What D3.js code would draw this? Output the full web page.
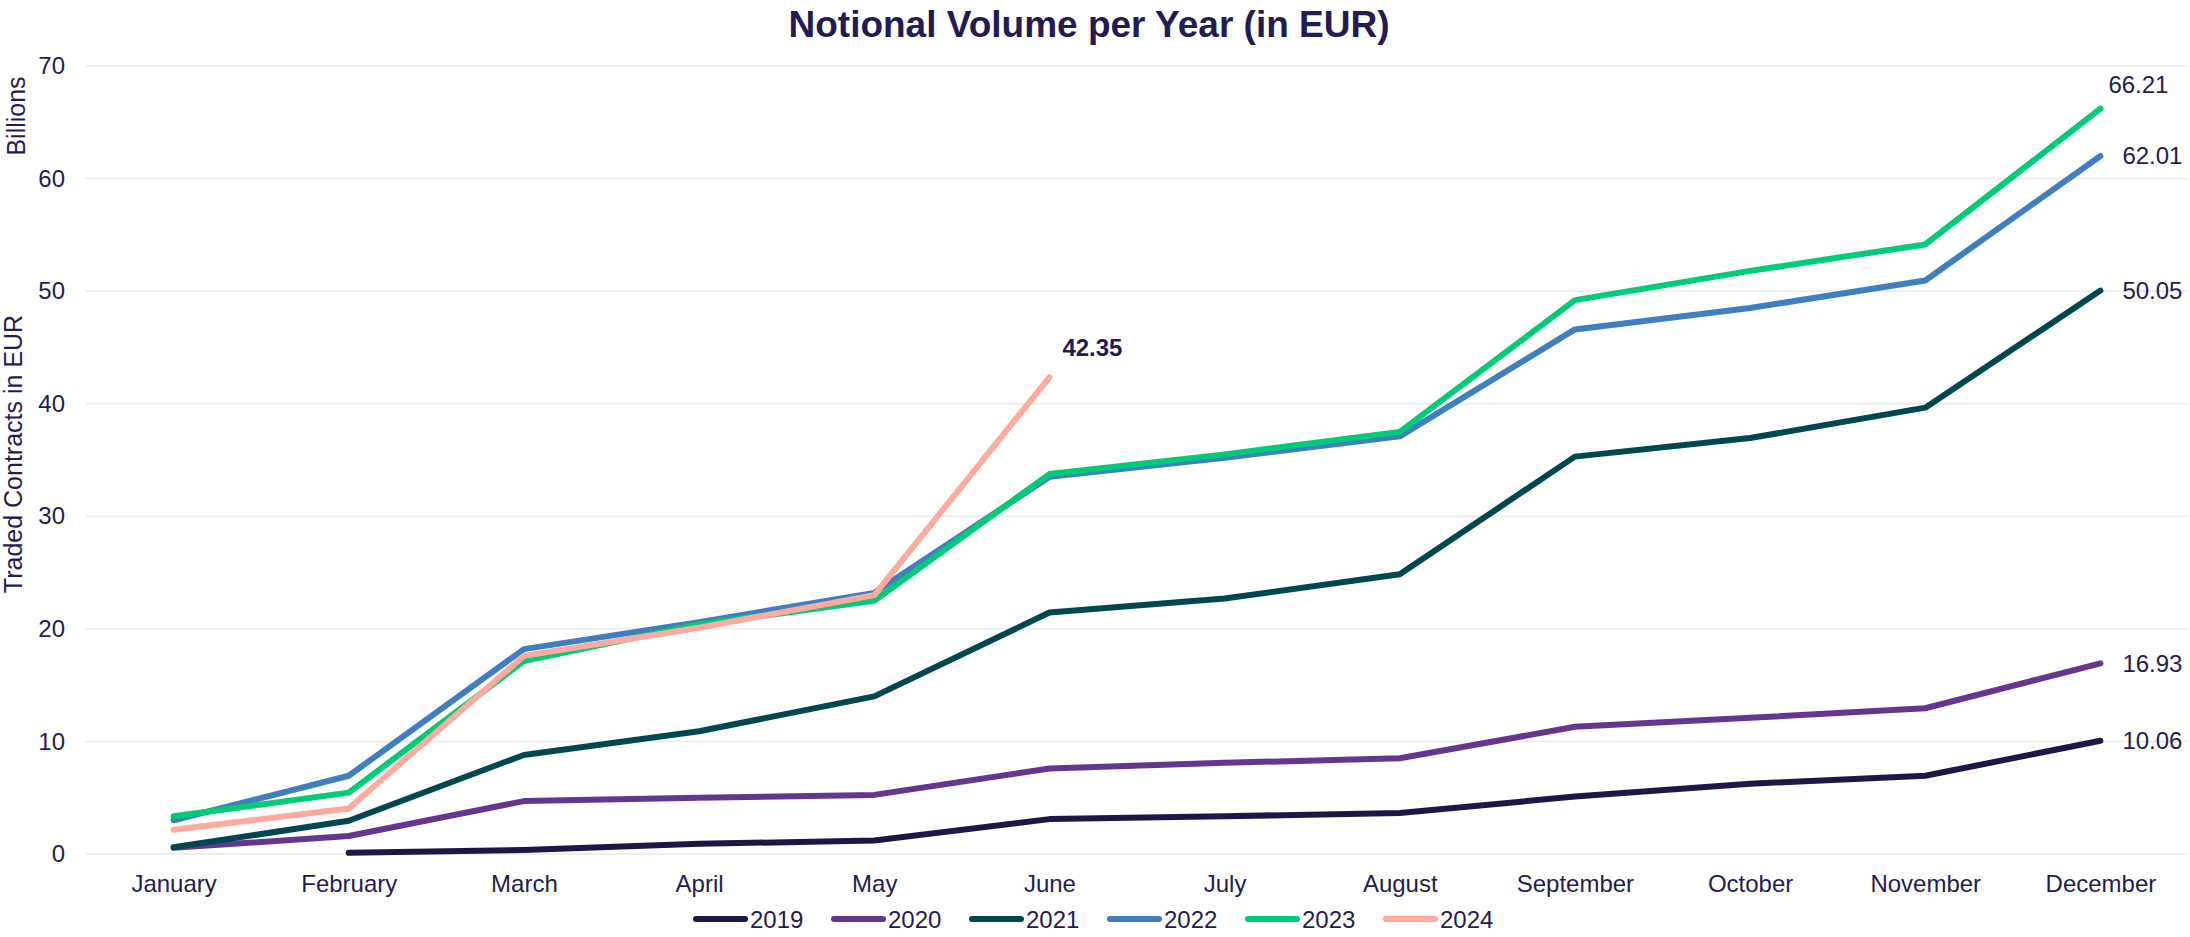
<!DOCTYPE html>
<html>
<head>
<meta charset="utf-8">
<script src="https://cdn.jsdelivr.net/npm/d3@7"></script>
<style>
  html, body { margin: 0; padding: 0; background: #ffffff; }
  svg text { font-family: "Liberation Sans", Arial, sans-serif; }
</style>
</head>
<body>
<svg id="chart" width="2190" height="937"></svg>
<script>
// ---- data ----
const months = ["January","February","March","April","May","June","July","August","September","October","November","December"];
const years = ["2019","2020","2021","2022","2023","2024"];
const v2019 = [null, 0.1, 0.35, 0.9, 1.2, 3.1, 3.35, 3.65, 5.1, 6.25, 6.95, 10.06];
const v2020 = [0.55, 1.6, 4.7, 5.0, 5.25, 7.6, 8.1, 8.5, 11.3, 12.1, 12.95, 16.93];
const v2021 = [0.6, 2.95, 8.8, 10.9, 14.0, 21.45, 22.7, 24.85, 35.3, 36.95, 39.65, 50.05];
const v2022 = [3.0, 6.95, 18.2, 20.6, 23.2, 33.5, 35.2, 37.1, 46.6, 48.5, 50.95, 62.01];
const v2023 = [3.35, 5.45, 17.15, 20.4, 22.5, 33.75, 35.5, 37.5, 49.2, 51.8, 54.15, 66.21];
const v2024 = [2.15, 4.05, 17.6, 20.1, 23.0, 42.35];
const yTicks = [0, 10, 20, 30, 40, 50, 60, 70];
const colors = ["#1f1648", "#66358f", "#00474f", "#3f7fc0", "#00cc77", "#ffaa9e"];
const seriesValues = [v2019, v2020, v2021, v2022, v2023, v2024];
const title = "Notional Volume per Year (in EUR)";
const yTitleOuter = "Billions";
const yTitleInner = "Traded Contracts in EUR";

// ---- setup ----
const textColor = "#231c52";
const svg = d3.select("#chart");
const W = 2190, H = 937;
const plotLeft = 86, plotRight = 2188, plotTop = 66, plotBottom = 854;

const x = d3.scalePoint().domain(months).range([plotLeft, plotRight]).padding(0.5);
const y = d3.scaleLinear().domain([0, 70]).range([plotBottom, plotTop]);

// gridlines
svg.append("g").selectAll("line").data(yTicks).join("line")
  .attr("x1", plotLeft).attr("x2", plotRight)
  .attr("y1", d => y(d)).attr("y2", d => y(d))
  .attr("stroke", "#eeeeee").attr("stroke-width", 2);

// y axis
const yAxis = d3.axisLeft(y).tickValues(yTicks).tickSize(0).tickPadding(0).tickFormat(d3.format("d"));
const gy = svg.append("g").attr("transform", `translate(65,0)`).call(yAxis);
gy.select(".domain").remove();
gy.selectAll("text").attr("font-size", 24).attr("fill", textColor)
  .attr("font-family", "Liberation Sans, Arial, sans-serif");

// x axis
const xAxis = d3.axisBottom(x).tickSize(0).tickPadding(0);
const gx = svg.append("g").attr("transform", `translate(0,${plotBottom})`).call(xAxis);
gx.select(".domain").remove();
gx.selectAll("text").attr("font-size", 24).attr("fill", textColor)
  .attr("dy", null).attr("y", 38)
  .attr("font-family", "Liberation Sans, Arial, sans-serif");

// title
svg.append("text").attr("x", 1089).attr("y", 37).attr("text-anchor", "middle")
  .attr("font-size", 37).attr("font-weight", "bold").attr("fill", textColor).text(title);

// y titles
svg.append("text").attr("transform", "translate(25,116) rotate(-90)").attr("text-anchor", "middle")
  .attr("font-size", 25).attr("fill", textColor).text(yTitleOuter);
svg.append("text").attr("transform", "translate(22,454) rotate(-90)").attr("text-anchor", "middle")
  .attr("font-size", 25).attr("fill", textColor).text(yTitleInner);

// lines
const line = d3.line()
  .defined(d => d.v !== null && d.v !== undefined)
  .x(d => x(d.m)).y(d => y(d.v));

years.forEach((yr, i) => {
  const pts = seriesValues[i].map((v, j) => ({ m: months[j], v }));
  svg.append("path").datum(pts)
    .attr("d", line)
    .attr("fill", "none")
    .attr("stroke", colors[i])
    .attr("stroke-width", 6)
    .attr("stroke-linecap", "round")
    .attr("stroke-linejoin", "round");
});

// end labels
const labelStyle = {
  "2019": { dx: 22, dy: 0, bold: false },
  "2020": { dx: 22, dy: 0, bold: false },
  "2021": { dx: 22, dy: 0, bold: false },
  "2022": { dx: 22, dy: 0, bold: false },
  "2023": { dx: 8, dy: -24, bold: false },
  "2024": { dx: 13, dy: -30, bold: true }
};
years.forEach((yr, i) => {
  const vals = seriesValues[i];
  const j = vals.length - 1;
  const st = labelStyle[yr];
  svg.append("text")
    .attr("x", x(months[j]) + st.dx)
    .attr("y", y(vals[j]) + st.dy)
    .attr("dominant-baseline", "central")
    .attr("font-size", 24)
    .attr("font-weight", st.bold ? "bold" : "normal")
    .attr("fill", textColor)
    .text(d3.format(".2f")(vals[j]));
});

// legend
const legendX0 = 693, legendStep = 138, legendY = 919;
const lg = svg.append("g");
years.forEach((yr, i) => {
  const gx0 = legendX0 + i * legendStep;
  lg.append("line").attr("x1", gx0 + 3).attr("x2", gx0 + 52)
    .attr("y1", legendY).attr("y2", legendY)
    .attr("stroke", colors[i]).attr("stroke-width", 6).attr("stroke-linecap", "round");
  lg.append("text").attr("x", gx0 + 57).attr("y", legendY)
    .attr("dominant-baseline", "central").attr("font-size", 24).attr("fill", textColor).text(yr);
});
</script>
</body>
</html>
